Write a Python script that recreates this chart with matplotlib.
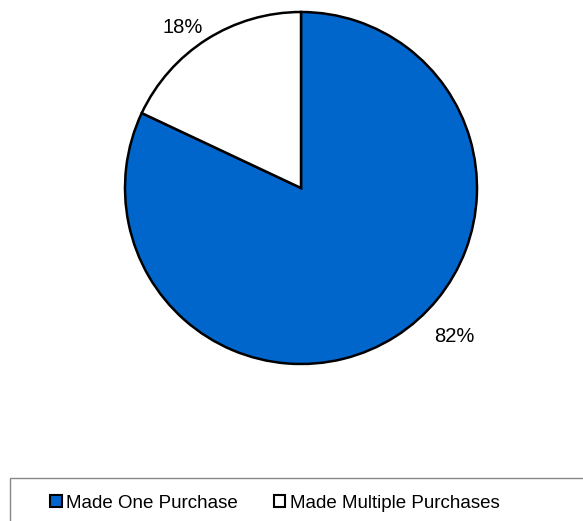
import matplotlib.pyplot as plt
from matplotlib.patches import Patch, Rectangle
import numpy as np

plt.rcParams['font.family'] = ['Liberation Sans', 'DejaVu Sans']

# Доли покупателей
labels = ['Made One Purchase', 'Made Multiple Purchases']
shares = [82, 18]
colors = ['#0066CC', '#FFFFFF']

fig = plt.figure(figsize=(5.83, 5.21), dpi=100)
ax = fig.add_axes([125 / 583, 1 - 364 / 521, 352 / 583, 352 / 521])

wedges, _ = ax.pie(shares, colors=colors, startangle=90, counterclock=False,
                   wedgeprops=dict(edgecolor='black', linewidth=1.8))
ax.set_xlim(-1, 1)
ax.set_ylim(-1, 1)
ax.set_aspect('equal')
ax.axis('off')

# Подписи процентов снаружи секторов
offsets = [(1.21, 13.5), (1.13, 4)]
for w, v, (dist, shift) in zip(wedges, shares, offsets):
    ang = np.deg2rad((w.theta1 + w.theta2) / 2 + shift)
    ax.text(dist * np.cos(ang), dist * np.sin(ang), f'{v}%',
            ha='center', va='center', fontsize=14.5, clip_on=False)

# Рамка легенды внизу
fig.patches.append(Rectangle((10 / 583, -0.1), 1.0, 1 - 478 / 521 + 0.1,
                             transform=fig.transFigure, facecolor='white',
                             edgecolor='#888888', linewidth=1.0))

handles = [Patch(facecolor=c, edgecolor='black', linewidth=1.5) for c in colors]
fig.legend(handles, labels, loc='center', bbox_to_anchor=(275 / 583, 1 - 503 / 521),
           ncol=2, frameon=False, fontsize=13.5, handlelength=0.62,
           handleheight=0.62, handletextpad=0.25, columnspacing=1.9)

fig.savefig('out.png', dpi=100)
